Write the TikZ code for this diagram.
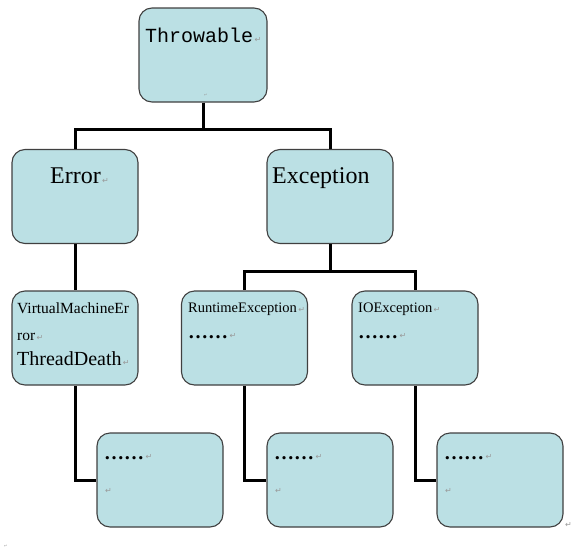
\documentclass[tikz,border=0pt]{standalone}
\usepackage{fontspec}
\setmainfont{Liberation Serif}
\setmonofont{Liberation Mono}
\newfontfamily\pmfont{DejaVu Sans}
\definecolor{boxfill}{RGB}{187,224,228}
\definecolor{boxline}{RGB}{64,64,64}
\newcommand{\fsz}[1]{\fontsize{#1}{#1}\selectfont}

\begin{document}
\begin{tikzpicture}[x=1pt, y=-1pt,
    box/.style={draw=boxline, fill=boxfill, line width=1.1pt, rounded corners=13pt,
        minimum width=126pt, minimum height=94pt, inner sep=0pt},
    conn/.style={line width=3pt},
    lbl/.style={anchor=base west, inner sep=0pt},
    pmark/.style={anchor=base west, inner sep=0pt, text=gray!80, font=\pmfont\fsz{8}, xshift=1pt}]
    % Frame
    \useasboundingbox (0,0) rectangle (581,549);
    
    % Boxes
    \node[box, minimum width=128pt] (thr) at (203,55) {};
    \node[box] (err) at (75,196.5) {};
    \node[box] (exc) at (330,196.5) {};
    \node[box] (vme) at (75,338) {};
    \node[box] (rte) at (244.5,338) {};
    \node[box] (ioe) at (415,338) {};
    \node[box] (bxa) at (160,480) {};
    \node[box] (bxb) at (330,480) {};
    \node[box] (bxc) at (500,480) {};
    
    % Connectors
    \draw[conn] (thr.south) -- ++(0,27) -| (err.north);
    \draw[conn] (thr.south) -- ++(0,27) -| (exc.north);
    \draw[conn] (err.south) -- (vme.north);
    \draw[conn] (exc.south) -- ++(0,27) -| (rte.north);
    \draw[conn] (exc.south) -- ++(0,27) -| (ioe.north);
    \draw[conn] (vme.south) |- (bxa.west);
    \draw[conn] (rte.south) |- (bxb.west);
    \draw[conn] (ioe.south) |- (bxc.west);
    
    % Texts
    \node[lbl, font=\ttfamily\fsz{20}] (tthr) at (145,42) {Throwable};
    \node[pmark] at (tthr.base east) {↵};
    \node[pmark, font=\pmfont\fsz{4}] at (203,96) {↵};
    
    \node[lbl, font=\fsz{24}] (terr) at (50,183) {Error};
    \node[pmark] at (terr.base east) {↵};
    \node[lbl, font=\fsz{24}] (texc) at (272,183) {Exception};
    
    \node[lbl, font=\fsz{15.5}] (tvma) at (17,313) {VirtualMachineEr};
    \node[lbl, font=\fsz{15.5}] (tvmb) at (17,340) {ror};
    \node[pmark] at (tvmb.base east) {↵};
    \node[lbl, font=\fsz{20}] (tdth) at (17,365) {ThreadDeath};
    \node[pmark] at (tdth.base east) {↵};
    
    \node[lbl, font=\fsz{14.5}] (trte) at (188,312) {RuntimeException};
    \node[pmark] at (trte.base east) {↵};
    \node[lbl, font=\bfseries\fsz{20}] (drte) at (188,338) {……};
    \node[pmark] at (drte.base east) {↵};
    
    \node[lbl, font=\fsz{14.5}] (tioe) at (358,312) {IOException};
    \node[pmark] at (tioe.base east) {↵};
    \node[lbl, font=\bfseries\fsz{20}] (dioe) at (358,338) {……};
    \node[pmark] at (dioe.base east) {↵};
    
    % Bottom boxes
    \foreach \bx/\px in {bxa/104, bxb/274, bxc/444}{
        \node[lbl, font=\bfseries\fsz{20}] (d\bx) at (\px,459) {……};
        \node[pmark] at (d\bx.base east) {↵};
        \node[pmark, xshift=0pt] at (\px,493) {↵};
    }
    \node[pmark] at (564,527) {↵};
    \node[pmark, font=\pmfont\fsz{4}] at (3,547) {↵};
\end{tikzpicture}
\end{document}
